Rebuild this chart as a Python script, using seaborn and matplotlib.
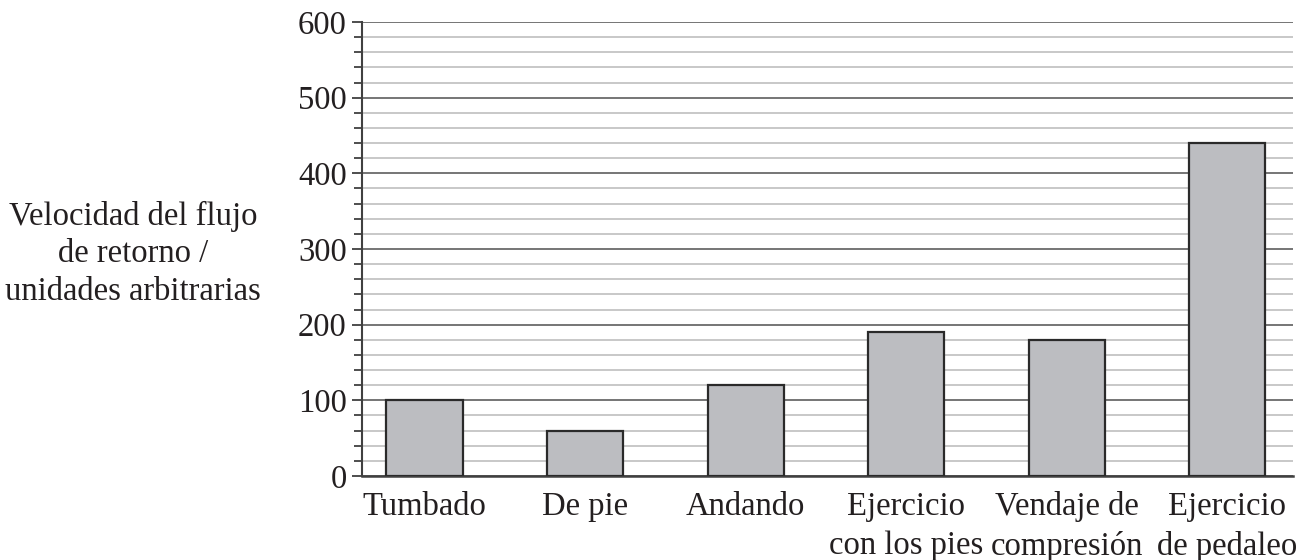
import matplotlib
matplotlib.use("Agg")
import matplotlib.pyplot as plt
import seaborn as sns
import pandas as pd
from matplotlib.ticker import MultipleLocator

categories = ["Tumbado", "De pie", "Andando", "Ejercicio\ncon los pies",
              "Vendaje de\ncompresión", "Ejercicio\nde pedaleo"]
values = [100, 60, 120, 190, 180, 440]
ylabel = "Velocidad del flujo\nde retorno /\nunidades arbitrarias"
yticks = [0, 100, 200, 300, 400, 500, 600]

sns.set_theme(style="white")
plt.rcParams['font.family'] = ['Liberation Serif', 'DejaVu Serif']
text_color = "#231f20"
FS = 23.5

df = pd.DataFrame({"cat": categories, "val": values})

fig = plt.figure(figsize=(13.11, 5.6), dpi=100)
ax = fig.add_axes([362/1311, 1 - 476/560, (1293 - 362)/1311, (476 - 22)/560])

sns.barplot(data=df, x="cat", y="val", ax=ax, color="#bcbdc1",
            edgecolor="#2a2a2a", linewidth=1.6, width=0.475, saturation=1, zorder=3)

ax.set_ylim(0, 600)
ax.set_xlim(-0.39, 5.41)
ax.yaxis.set_major_locator(MultipleLocator(100))
ax.yaxis.set_minor_locator(MultipleLocator(20))
ax.set_yticks(yticks)
ax.set_yticklabels([str(t) for t in yticks])

ax.grid(False)
ax.yaxis.grid(True, which="major", color="#6a6a6a", linewidth=1.3, zorder=0)
ax.yaxis.grid(True, which="minor", color="#c4c4c4", linewidth=1.3, zorder=0)
ax.set_axisbelow(True)

for s in ["top", "right"]:
    ax.spines[s].set_visible(False)
ax.spines["left"].set_color("#404040")
ax.spines["left"].set_linewidth(1.5)
ax.spines["bottom"].set_color("#404040")
ax.spines["bottom"].set_linewidth(1.8)

ax.tick_params(axis="y", which="major", direction="out", length=7.5, width=1.3,
               color="#404040", left=True, labelsize=FS, labelcolor=text_color, pad=3.5)
ax.tick_params(axis="y", which="minor", direction="out", length=6, width=1.3,
               color="#404040", left=True)
ax.tick_params(axis="x", which="both", length=0, labelsize=FS,
               labelcolor=text_color, pad=11)
for lab in ax.get_xticklabels():
    lab.set_linespacing(1.38)

ax.set_xlabel("")
ax.set_ylabel(ylabel, rotation=0, ha="center", va="center", fontsize=FS,
              color=text_color, linespacing=1.3)
ax.yaxis.set_label_coords(-0.246, 0.49)

fig.savefig("out.png", dpi=100)
